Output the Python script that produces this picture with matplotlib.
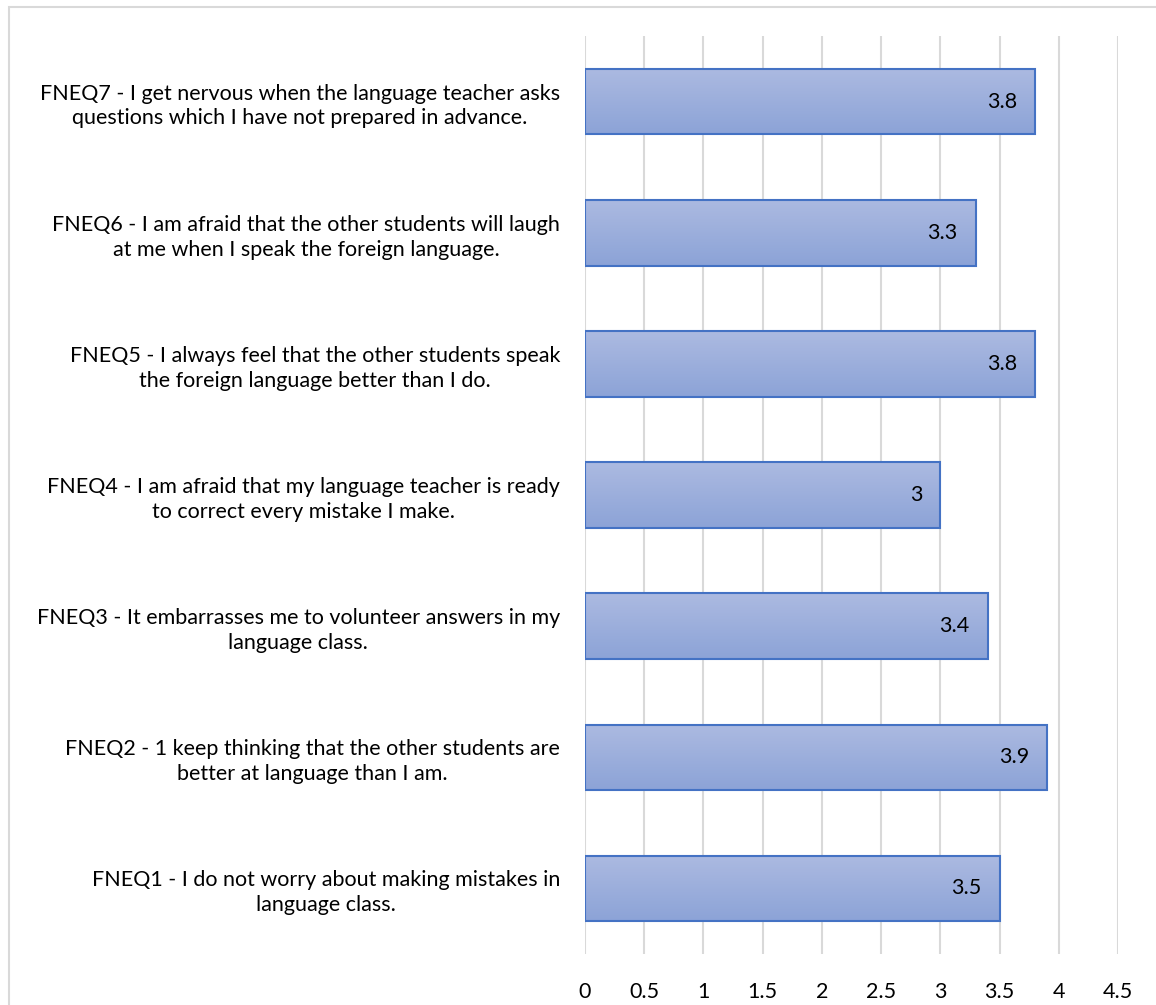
import matplotlib.pyplot as plt
import numpy as np
from matplotlib.patches import Rectangle

plt.rcParams['font.family'] = ['Lato', 'DejaVu Sans']

items = [
    "FNEQ1 - I do not worry about making mistakes in\nlanguage class.",
    "FNEQ2 - 1 keep thinking that the other students are\nbetter at language than I am.",
    "FNEQ3 - It embarrasses me to volunteer answers in my\nlanguage class.",
    "FNEQ4 - I am afraid that my language teacher is ready\nto correct every mistake I make.",
    "FNEQ5 - I always feel that the other students speak\nthe foreign language better than I do.",
    "FNEQ6 - I am afraid that the other students will laugh\nat me when I speak the foreign language.",
    "FNEQ7 - I get nervous when the language teacher asks\nquestions which I have not prepared in advance.",
]
means = [3.5, 3.9, 3.4, 3.0, 3.8, 3.3, 3.8]
xticks = [0, 0.5, 1, 1.5, 2, 2.5, 3, 3.5, 4, 4.5]
xticklabels = ["0", "0.5", "1", "1.5", "2", "2.5", "3", "3.5", "4", "4.5"]

FS = 15.5
W, H = 1156, 1005
fig = plt.figure(figsize=(W / 100, H / 100), dpi=100)

# outer chart border
fig.patches.append(Rectangle((9 / W, -0.05), 1.2, 1 - 7 / H + 0.05, transform=fig.transFigure,
                             fill=False, edgecolor="#D9D9D9", linewidth=1.5))

ax = fig.add_axes([585 / W, 1 - 954 / H, (1118 - 585) / W, (954 - 36) / H])
ax.set_xlim(0, 4.5)
ax.set_ylim(-0.5, len(items) - 0.5)

ypos = np.arange(len(items))
bars = ax.barh(ypos, means, height=0.5, color="none", edgecolor="#4472C4", linewidth=1.5, zorder=3)

# vertical gradient fill for each bar
grad = np.linspace(0, 1, 256).reshape(-1, 1)
top = np.array([0xAC, 0xBA, 0xE1]) / 255
bot = np.array([0x8C, 0xA3, 0xD7]) / 255
img = top + (bot - top) * grad[:, :, None]
for b in bars:
    x0, y0, w, h = b.get_x(), b.get_y(), b.get_width(), b.get_height()
    im = ax.imshow(img, extent=[x0, x0 + w, y0, y0 + h], aspect="auto", zorder=2)
    im.set_clip_path(b)

for y, v in zip(ypos, means):
    ax.annotate(f"{v:g}", (v, y), xytext=(-13, 0), textcoords="offset points",
                ha="right", va="center", fontsize=FS, color="#000000", zorder=4)

ax.set_xticks(xticks)
ax.set_xticklabels(xticklabels, fontsize=FS)
ax.set_yticks(ypos)
ax.set_yticklabels(items, fontsize=FS, multialignment="center", linespacing=1.3)
ax.tick_params(axis="both", length=0)
ax.tick_params(axis="x", pad=20)
ax.tick_params(axis="y", pad=18)
ax.grid(axis="x", color="#D9D9D9", linewidth=1.5, zorder=0)
ax.set_axisbelow(True)
for s in ax.spines.values():
    s.set_visible(False)

fig.savefig("out.png", dpi=100, facecolor="white")
